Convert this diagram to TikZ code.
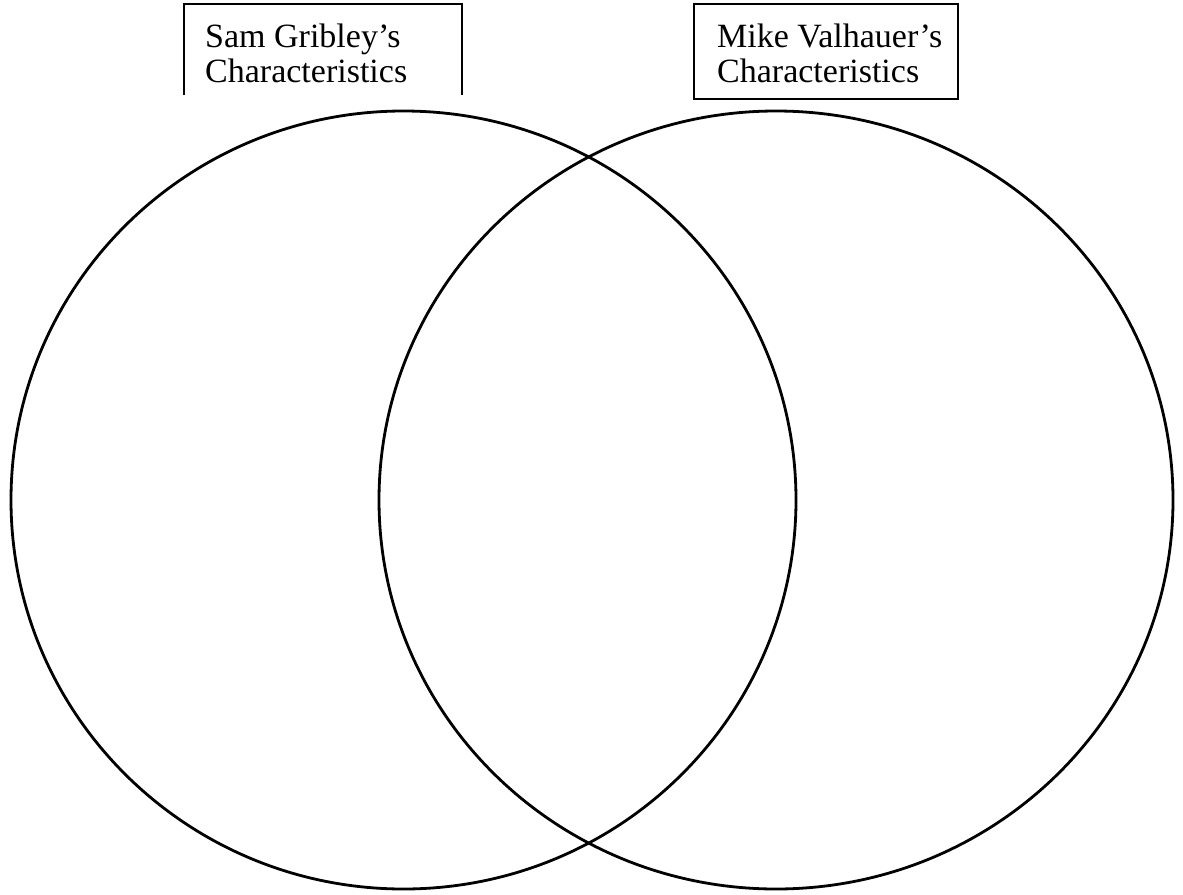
\documentclass[tikz,border=0pt]{standalone}
\usepackage{fontspec}
\setmainfont{Liberation Serif}
\begin{document}
\begin{tikzpicture}[x=1pt,y=-1pt,
  ring/.style={draw=black,line width=2.8pt},
  label box/.style={draw=black,line width=1.4pt},
  label text/.style={anchor=base west,inner sep=0pt,align=left,
    font=\fontsize{34}{35}\selectfont}]
\useasboundingbox (0,0) rectangle (1183,894);
\fill[white] (0,0) rectangle (1183,894);
% circles
\draw[ring] (403.5,500) ellipse [x radius=392.5, y radius=389];
\draw[ring] (776,500) ellipse [x radius=397, y radius=389];
% left label (open at bottom)
\draw[label box] (184,95) -- (184,4) -- (462,4) -- (462,95);
\node[label text] (samlabel) at (205,82) {Sam Gribley’s\\Characteristics};
% right label
\draw[label box] (694,4) rectangle (958,99);
\node[label text] (mikelabel) at (717,82) {Mike Valhauer’s\\Characteristics};
\end{tikzpicture}
\end{document}
